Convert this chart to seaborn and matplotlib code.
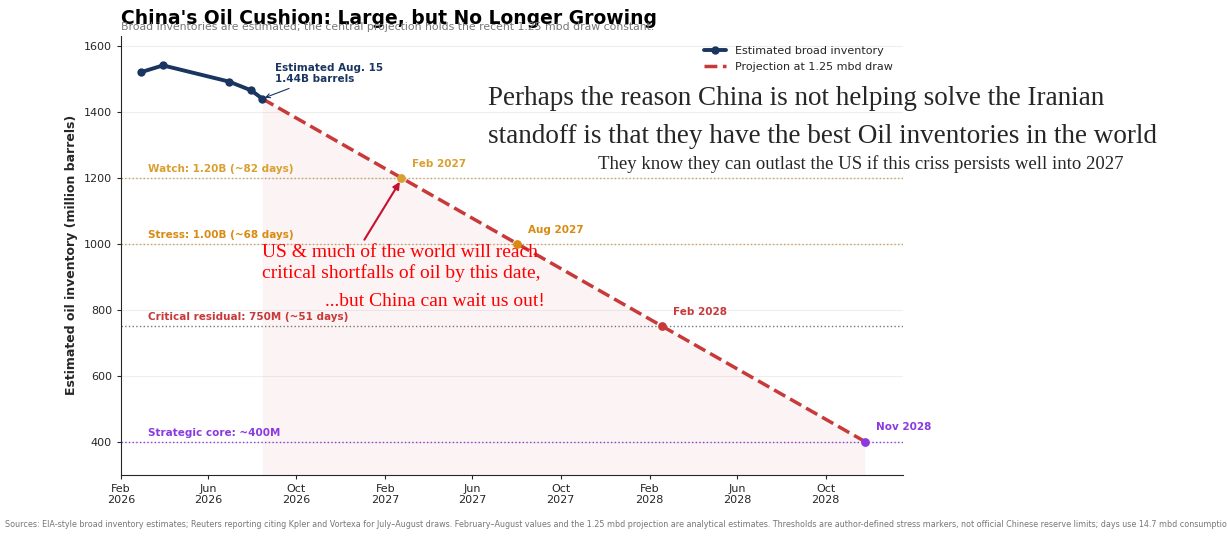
import pandas as pd
import seaborn as sns
import matplotlib.pyplot as plt
import matplotlib.dates as mdates

# observed broad inventory (million barrels)
hist_dates = ["2026-02-28", "2026-03-31", "2026-06-30", "2026-07-31", "2026-08-15"]
hist_values = [1520, 1541, 1492, 1465, 1440]

# projection at 1.25 mbd draw, with milestone crossings
proj_dates = ["2026-08-15", "2027-02-23", "2027-08-02", "2028-02-18", "2028-11-24"]
proj_values = [1440, 1200, 1000, 750, 400]
milestone_labels = ["Feb 2027", "Aug 2027", "Feb 2028", "Nov 2028"]

threshold_values = [1200, 1000, 750, 400]
threshold_labels = ["Watch: 1.20B (~82 days)", "Stress: 1.00B (~68 days)",
                    "Critical residual: 750M (~51 days)", "Strategic core: ~400M"]
threshold_colors = ["#d9a030", "#d98a10", "#c83a3a", "#8a3ae0"]
line_colors = ["#c8a060", "#c8a060", "#777777", "#8a3ae0"]

hist = pd.DataFrame({"date": pd.to_datetime(hist_dates), "value": hist_values})
proj = pd.DataFrame({"date": pd.to_datetime(proj_dates), "value": proj_values})

sns.set_style("white")
fig = plt.figure(figsize=(12.27, 5.38), dpi=100)
ax = fig.add_axes([0.0986, 0.118, 0.637, 0.815])

x0, x1 = pd.Timestamp("2026-02-01"), pd.Timestamp("2029-01-15")
for v, c in zip(threshold_values, line_colors):
    ax.axhline(v, color=c, ls=":", lw=1, zorder=1)
for v, lab, c in zip(threshold_values, threshold_labels, threshold_colors):
    ax.text(pd.Timestamp("2026-03-10"), v + 12, lab, color=c, fontsize=7.5,
            fontweight="bold", va="bottom")

ax.fill_between(proj["date"], proj["value"], 300, color="#c83a3a", alpha=0.05, lw=0)
sns.lineplot(data=proj, x="date", y="value", ax=ax, color="#c83a3a", lw=2.5,
             ls="--", label="Projection at 1.25 mbd draw", zorder=3)
sns.lineplot(data=hist, x="date", y="value", ax=ax, color="#1a3560", lw=2.8,
             marker="o", markersize=6, markeredgewidth=0,
             label="Estimated broad inventory", zorder=4)
for d, v, lab, c in zip(proj["date"][1:], proj["value"][1:], milestone_labels, threshold_colors):
    ax.scatter([d], [v], color=c, s=28, zorder=5)
    ax.annotate(lab, (d, v), xytext=(8, 8), textcoords="offset points",
                color=c, fontsize=7.5, fontweight="bold")

ax.annotate("Estimated Aug. 15\n1.44B barrels", (hist["date"].iloc[-1], 1440),
            xytext=(pd.Timestamp("2026-09-01"), 1490), color="#1a3560",
            fontsize=7.5, fontweight="bold",
            arrowprops=dict(arrowstyle="->", color="#1a3560", lw=0.8))

ax.set_xlim(x0, x1)
ax.set_ylim(300, 1630)
ax.set_yticks([400, 600, 800, 1000, 1200, 1400, 1600])
ax.xaxis.set_major_locator(mdates.MonthLocator(bymonth=[2, 6, 10]))
ax.xaxis.set_major_formatter(mdates.DateFormatter("%b\n%Y"))
ax.tick_params(labelsize=8, length=3, left=True, bottom=True)
ax.grid(axis="y", color="#eeeeee", lw=0.8)
ax.set_xlabel("")
ax.set_ylabel("Estimated oil inventory (million barrels)", fontsize=9, fontweight="bold")
sns.despine(ax=ax)
ax.legend(loc="upper right", frameon=False, fontsize=8, reverse=True)

fig.text(0.0986, 0.955, "China's Oil Cushion: Large, but No Longer Growing",
         fontsize=13.5, fontweight="bold", color="black")
fig.text(0.0986, 0.94, "Broad inventories are estimated; the central projection holds the recent 1.25 mbd draw constant.",
         fontsize=7.8, color="#777777", va="bottom")
fig.text(0.004, 0.02, "Sources: EIA-style broad inventory estimates; Reuters reporting citing Kpler and Vortexa for July\u2013August draws. February\u2013August values and the 1.25 mbd projection are analytical estimates. Thresholds are author-defined stress markers, not official Chinese reserve limits; days use 14.7 mbd consumption.",
         fontsize=5.75, color="#777777")

serif = "Liberation Serif"
fig.text(0.398, 0.805, "Perhaps the reason China is not helping solve the Iranian",
         fontsize=19.5, family=serif)
fig.text(0.398, 0.735, "standoff is that they have the best Oil inventories in the world",
         fontsize=19.5, family=serif)
fig.text(0.487, 0.685, "They know they can outlast the US if this criss persists well into 2027",
         fontsize=13.5, family=serif)
ax.text(pd.Timestamp("2026-08-15"), 1000,
        "US & much of the world will reach\ncritical shortfalls of oil by this date,",
        color="red", fontsize=14, family=serif, va="top", linespacing=1.25)
ax.text(pd.Timestamp("2026-11-10"), 800, "...but China can wait us out!",
        color="red", fontsize=14, family=serif, va="bottom")
ax.annotate("", (proj["date"][1], 1195), xytext=(pd.Timestamp("2027-01-01"), 1005),
            arrowprops=dict(arrowstyle="-|>", color="#c8102e", lw=1.5))

fig.savefig("out.png", dpi=100)
